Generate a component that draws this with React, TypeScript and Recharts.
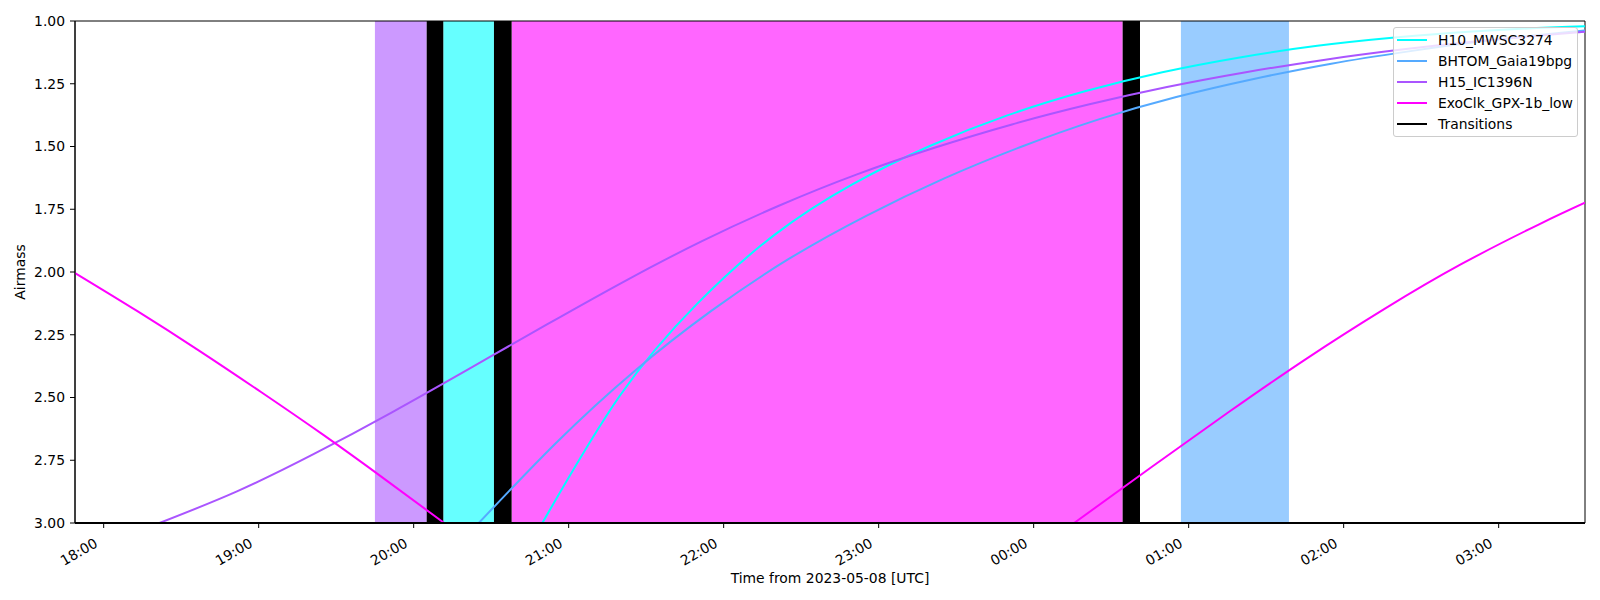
import { LineChart, Line, XAxis, YAxis, ReferenceArea } from 'recharts'

// hours since 2023-05-08 00:00 UTC
const X_MIN = 17.815
const X_MAX = 27.557
const hourTicks = [18, 19, 20, 21, 22, 23, 24, 25, 26, 27]
const airmassTicks = [1, 1.25, 1.5, 1.75, 2, 2.25, 2.5, 2.75, 3]

const h10Time = [20.83, 21.33, 21.83, 22.33, 22.83, 23.33, 23.83, 24.33, 24.83, 25.33, 25.83, 26.33, 26.83, 27.33, 27.557]
const h10Airmass = [3.0, 2.493, 2.126, 1.851, 1.651, 1.498, 1.376, 1.28, 1.204, 1.145, 1.099, 1.066, 1.042, 1.026, 1.021]

const bhtomTime = [20.42, 20.92, 21.42, 21.92, 22.42, 22.92, 23.42, 23.92, 24.42, 24.92, 25.42, 25.92, 26.42, 26.92, 27.42, 27.557]
const bhtomAirmass = [3.0, 2.68, 2.397, 2.155, 1.948, 1.776, 1.628, 1.501, 1.392, 1.303, 1.231, 1.17, 1.121, 1.079, 1.046, 1.038]

const h15Time = [18.36, 18.86, 19.36, 19.86, 20.36, 20.86, 21.36, 21.86, 22.36, 22.86, 23.36, 23.86, 24.36, 24.86, 25.36, 25.86, 26.36, 26.86, 27.36, 27.557]
const h15Airmass = [3.0, 2.874, 2.724, 2.559, 2.385, 2.209, 2.037, 1.877, 1.735, 1.611, 1.505, 1.412, 1.332, 1.263, 1.205, 1.156, 1.115, 1.081, 1.053, 1.043]

// null splits the two visible arcs
const exoTime = [17.815, 18.215, 18.615, 19.015, 19.415, 19.815, 20.197, 22, 24.261, 24.761, 25.261, 25.761, 26.261, 26.761, 27.261, 27.557]
const exoAirmass = [2.004, 2.155, 2.313, 2.478, 2.648, 2.826, 3.0, null, 3.0, 2.777, 2.557, 2.345, 2.148, 1.968, 1.81, 1.724]

// scheduled windows: [start, end]
const h15Window = [19.75, 20.084]
const h10Window = [20.191, 20.518]
const exoWindow = [20.632, 24.574]
const bhtomWindow = [24.95, 25.647]
const transitions = [
  [20.084, 20.191],
  [20.518, 20.632],
  [24.574, 24.686],
]

const names = ['H10_MWSC3274', 'BHTOM_Gaia19bpg', 'H15_IC1396N', 'ExoClk_GPX-1b_low', 'Transitions']
const colors = ['#00ffff', '#55aaff', '#aa55ff', '#ff00ff', '#000000']

const FONT = '"DejaVu Sans", sans-serif'
const FS = 13.9

function zip(t: number[], v: (number | null)[]) {
  return t.map((x, i) => ({ t: x, am: v[i] }))
}

function TimeTick({ x, y, payload }: any) {
  const h = ((payload.value % 24) + 24) % 24
  const label = `${String(h).padStart(2, '0')}:00`
  const ax = x - 5
  const ay = y + 18
  return (
    <text x={ax} y={ay} transform={`rotate(-30, ${ax}, ${ay})`} textAnchor="end" fontSize={FS} fill="#000" fontFamily={FONT}>
      {label}
    </text>
  )
}

function LegendBox() {
  return (
    <div
      style={{
        position: 'absolute',
        left: 1393,
        top: 27,
        width: 185,
        height: 110,
        boxSizing: 'border-box',
        border: '1px solid #cccccc',
        borderRadius: 3,
        background: 'rgba(255,255,255,0.8)',
        fontFamily: FONT,
        fontSize: FS,
      }}
    >
      {names.map((n, i) => (
        <div key={n} style={{ position: 'absolute', left: 0, top: 1.5 + i * 21, height: 21, display: 'flex', alignItems: 'center' }}>
          <div style={{ marginLeft: 3, width: 30, height: 2, background: colors[i] }} />
          <span style={{ marginLeft: 11, color: '#000', whiteSpace: 'nowrap' }}>{n}</span>
        </div>
      ))}
    </div>
  )
}

export default function App() {
  return (
    <div style={{ position: 'absolute', left: 0, top: 0, width: 1600, height: 600, background: '#fff', fontFamily: FONT }}>
      <LineChart width={1600} height={600} margin={{ top: 21, right: 15, left: 15, bottom: 7 }} style={{ fontFamily: FONT }}>
        <ReferenceArea x1={h15Window[0]} x2={h15Window[1]} fill={colors[2]} fillOpacity={0.6} stroke="none" />
        <ReferenceArea x1={h10Window[0]} x2={h10Window[1]} fill={colors[0]} fillOpacity={0.6} stroke="none" />
        <ReferenceArea x1={exoWindow[0]} x2={exoWindow[1]} fill={colors[3]} fillOpacity={0.6} stroke="none" />
        <ReferenceArea x1={bhtomWindow[0]} x2={bhtomWindow[1]} fill={colors[1]} fillOpacity={0.6} stroke="none" />
        {transitions.map((tr, i) => (
          <ReferenceArea key={i} x1={tr[0]} x2={tr[1]} fill="#000" fillOpacity={1} stroke="none" />
        ))}
        <XAxis
          dataKey="t"
          type="number"
          domain={[X_MIN, X_MAX]}
          allowDataOverflow
          ticks={hourTicks}
          interval={0}
          height={70}
          tickSize={5}
          tickMargin={0}
          tick={<TimeTick />}
          tickLine={{ stroke: '#000' }}
          axisLine={{ stroke: '#000', strokeWidth: 2 }}
          label={{ value: 'Time from 2023-05-08 [UTC]', position: 'insideBottom', offset: 10, fill: '#000', fontSize: FS }}
        />
        <YAxis
          type="number"
          domain={[1, 3]}
          reversed
          allowDataOverflow
          ticks={airmassTicks}
          interval={0}
          width={60}
          tickSize={5}
          tickMargin={5}
          tickFormatter={(v) => v.toFixed(2)}
          tick={{ fontSize: FS, fill: '#000', fontFamily: FONT }}
          tickLine={{ stroke: '#000' }}
          axisLine={{ stroke: '#000' }}
          label={{ value: 'Airmass', angle: -90, position: 'insideLeft', offset: 5, fill: '#000', fontSize: FS, style: { textAnchor: 'middle' } }}
        />
        <Line data={zip(h10Time, h10Airmass)} dataKey="am" type="natural" stroke={colors[0]} strokeWidth={2} dot={false} isAnimationActive={false} />
        <Line data={zip(bhtomTime, bhtomAirmass)} dataKey="am" type="natural" stroke={colors[1]} strokeWidth={2} dot={false} isAnimationActive={false} />
        <Line data={zip(h15Time, h15Airmass)} dataKey="am" type="natural" stroke={colors[2]} strokeWidth={2} dot={false} isAnimationActive={false} />
        <Line data={zip(exoTime, exoAirmass)} dataKey="am" type="natural" stroke={colors[3]} strokeWidth={2} dot={false} isAnimationActive={false} />
        <ReferenceArea x1={X_MIN} x2={X_MAX} y1={1} y2={3} fill="none" stroke="#000" strokeWidth={1} />
      </LineChart>
      <LegendBox />
    </div>
  )
}
